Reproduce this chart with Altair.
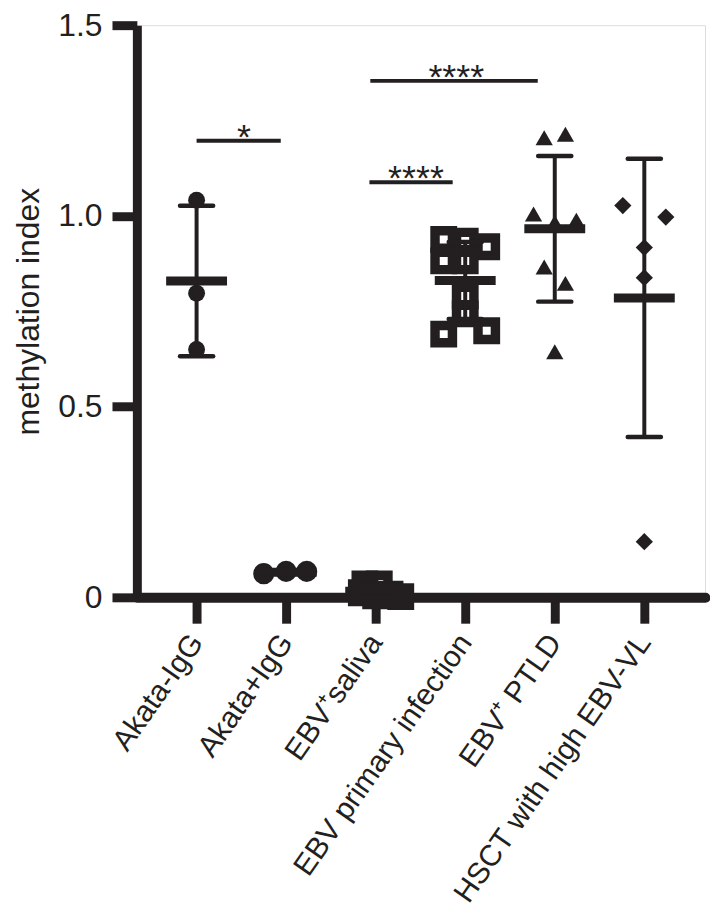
import altair as alt
import pandas as pd

categories = ["Akata-IgG", "Akata+IgG", "EBV\u207asaliva", "EBV primary infection",
              "EBV\u207a PTLD", "HSCT with high EBV-VL"]

# group 0: Akata-IgG (filled circles)
akata_neg_val = [1.041, 0.797, 0.650]
akata_neg_off = [0.0, 0.0, 0.0]
# group 1: Akata+IgG (open circles)
akata_pos_val = [0.062, 0.068, 0.068]
akata_pos_off = [-0.25, 0.0, 0.23]
# group 2: EBV+ saliva (open squares)
saliva_val = [0.035, 0.035, 0.012, 0.004, 0.008, 0.002]
saliva_off = [-0.12, 0.04, -0.16, 0.0, 0.16, 0.28]
# group 3: EBV primary infection (open squares)
primary_val = [0.938, 0.934, 0.919, 0.882, 0.882, 0.790, 0.743, 0.690, 0.699]
primary_off = [-0.24, 0.0, 0.24, -0.24, 0.0, 0.0, 0.0, -0.24, 0.24]
# group 4: EBV+ PTLD (triangles)
ptld_val = [1.205, 1.214, 1.005, 0.983, 0.989, 0.866, 0.823, 0.644]
ptld_off = [-0.118, 0.119, -0.237, 0.0, 0.241, -0.118, 0.119, 0.0]
# group 5: HSCT with high EBV-VL (diamonds)
hsct_val = [1.027, 0.997, 0.917, 0.838, 0.146]
hsct_off = [-0.24, 0.24, 0.0, 0.0, 0.0]

# significance annotations
sig_x1 = [0.0, 1.93, 1.94]
sig_x2 = [0.94, 2.86, 3.81]
sig_y = [1.197, 1.088, 1.354]
sig_label = ["*", "****", "****"]
sig_tx = [0.53, 2.45, 2.9]

groups = [akata_neg_val, akata_pos_val, saliva_val, primary_val, ptld_val, hsct_val]
offsets = [akata_neg_off, akata_pos_off, saliva_off, primary_off, ptld_off, hsct_off]
rows = []
for gi, (vals, offs) in enumerate(zip(groups, offsets)):
    for v, o in zip(vals, offs):
        rows.append({"idx": gi, "xpos": gi + o, "value": v})
df = pd.DataFrame(rows)

sig_df = pd.DataFrame({"x1": sig_x1, "x2": sig_x2, "y": sig_y,
                       "label": sig_label, "tx": sig_tx})

INK = "#231f20"
FONT = "Liberation Sans"
FS = 32

xscale = alt.Scale(domain=[-0.667, 5.678], nice=False, zero=False)
yscale = alt.Scale(domain=[0, 1.5], nice=False, zero=False)

label_arr = "[" + ",".join("'" + c + "'" for c in categories) + "]"

xaxis = alt.Axis(values=[0, 1, 2, 3, 4, 5], labelExpr=label_arr + "[datum.value]",
                 title=None, tickSize=26, tickWidth=9, domainWidth=10,
                 domainCap="round", labelAngle=305, labelAlign="right",
                 labelBaseline="middle", labelPadding=14, labelFontSize=30,
                 labelFont=FONT, labelColor=INK, domainColor=INK, tickColor=INK,
                 grid=False, labelOverlap=False, labelBound=False, labelFlush=False,
                 labelLimit=0)
yaxis = alt.Axis(values=[0, 0.5, 1.0, 1.5],
                 labelExpr="datum.value == 0 ? '0' : format(datum.value, '.1f')",
                 title="methylation index", titleFont=FONT, titleFontSize=FS,
                 titleFontWeight="normal", titleColor=INK, titlePadding=12,
                 tickSize=25, tickWidth=9, domainWidth=9, labelPadding=10,
                 labelFontSize=FS, labelFont=FONT, labelColor=INK,
                 domainColor=INK, tickColor=INK, grid=False, labelFlush=False,
                 labelLimit=0)

base = alt.Chart(df)

x_enc = alt.X("xpos:Q", scale=xscale, axis=xaxis)
y_enc = alt.Y("value:Q", scale=yscale, axis=yaxis)

pts_filled_circle = base.transform_filter("datum.idx == 0").mark_point(
    shape="circle", filled=True, size=289, color=INK, opacity=1).encode(x=x_enc, y=y_enc)
pts_open_circle = base.transform_filter("datum.idx == 1").mark_point(
    shape="circle", filled=False, size=150, strokeWidth=9, color=INK, opacity=1).encode(
    x=alt.X("xpos:Q", scale=xscale), y=alt.Y("value:Q", scale=yscale))
pts_open_square = base.transform_filter("datum.idx == 2 || datum.idx == 3").mark_point(
    shape="square", filled=False, size=306, strokeWidth=9.5, color=INK, opacity=1).encode(
    x=alt.X("xpos:Q", scale=xscale), y=alt.Y("value:Q", scale=yscale))
pts_tri = base.transform_filter("datum.idx == 4").mark_point(
    shape="triangle-up", filled=True, size=300, color=INK, opacity=1).encode(
    x=alt.X("xpos:Q", scale=xscale), y=alt.Y("value:Q", scale=yscale))
pts_dia = base.transform_filter("datum.idx == 5").mark_point(
    shape="diamond", filled=True, size=300, color=INK, opacity=1).encode(
    x=alt.X("xpos:Q", scale=xscale), y=alt.Y("value:Q", scale=yscale))

stats = base.transform_aggregate(
    mean="mean(value)", sd="stdev(value)", groupby=["idx"]
).transform_calculate(
    lo="datum.mean - datum.sd", hi="datum.mean + datum.sd",
    ml="datum.idx - 0.34", mr="datum.idx + 0.34",
    cl="datum.idx - 0.185", cr="datum.idx + 0.185")

vline = stats.mark_rule(color=INK, strokeWidth=4).encode(
    x=alt.X("idx:Q", scale=xscale), y=alt.Y("lo:Q", scale=yscale), y2="hi:Q")
cap_hi = stats.mark_rule(color=INK, strokeWidth=4.5, strokeCap="round").encode(
    x=alt.X("cl:Q", scale=xscale), x2="cr:Q", y=alt.Y("hi:Q", scale=yscale))
cap_lo = stats.mark_rule(color=INK, strokeWidth=4.5, strokeCap="round").encode(
    x=alt.X("cl:Q", scale=xscale), x2="cr:Q", y=alt.Y("lo:Q", scale=yscale))
mean_bar = stats.mark_rule(color=INK, strokeWidth=9).encode(
    x=alt.X("ml:Q", scale=xscale), x2="mr:Q", y=alt.Y("mean:Q", scale=yscale))

sig_base = alt.Chart(sig_df)
sig_lines = sig_base.mark_rule(color=INK, strokeWidth=4).encode(
    x=alt.X("x1:Q", scale=xscale), x2="x2:Q", y=alt.Y("y:Q", scale=yscale))
sig_text = sig_base.mark_text(font=FONT, fontSize=36, color=INK, baseline="alphabetic",
                              align="center", dy=8).encode(
    x=alt.X("tx:Q", scale=xscale), y=alt.Y("y:Q", scale=yscale), text="label:N")

chart = alt.layer(
    pts_filled_circle, pts_open_circle, pts_open_square, pts_tri, pts_dia,
    vline, cap_hi, cap_lo, mean_bar, sig_lines, sig_text
).properties(
    width=571, height=575,
    autosize=alt.AutoSizeParams(type="none"),
    padding={"left": 129.5, "top": 15, "right": 5, "bottom": 318},
).configure_view(stroke=None).configure(background="white")

chart.save("out.html", embed_options={"renderer": "svg", "actions": False})
